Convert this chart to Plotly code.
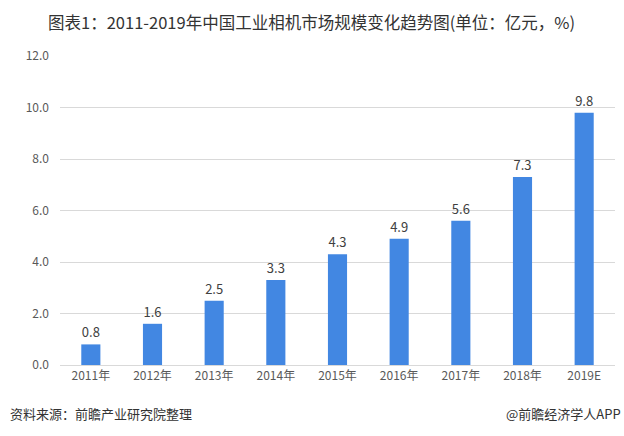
import plotly.graph_objects as go

years = ["2011年", "2012年", "2013年", "2014年", "2015年", "2016年", "2017年", "2018年", "2019E"]
market_size = [0.8, 1.6, 2.5, 3.3, 4.3, 4.9, 5.6, 7.3, 9.8]
y_ticks = [0, 2, 4, 6, 8, 10, 12]

BAR = "#4287E2"
GRID = "#D9D9D9"
TEXT = "#404040"
FONT = "Noto Sans CJK SC"

W, H = 624, 436
M = dict(l=60, r=9, t=56, b=71)

fig = go.Figure()
fig.add_trace(go.Bar(
    x=years, y=market_size,
    marker=dict(color=BAR, line=dict(width=0)),
    text=[f"{v:.1f}" for v in market_size],
    textposition="outside",
    textfont=dict(color=TEXT, size=13, family=FONT),
    cliponaxis=False,
))


def paper_y(py):
    # pixel row -> paper coordinate
    return 1 - (py - M["t"]) / (H - M["t"] - M["b"])


def paper_x(px):
    return (px - M["l"]) / (W - M["l"] - M["r"])


# title and footer
for txt, px, py, xa, size in [
    ("图表1：2011-2019年中国工业相机市场规模变化趋势图(单位：亿元，%)", 311, 22, "center", 16.5),
    ("资料来源：前瞻产业研究院整理", 8, 413, "left", 13),
    ("@前瞻经济学人APP", 623, 413, "right", 13),
]:
    fig.add_annotation(
        x=paper_x(px), y=paper_y(py), xref="paper", yref="paper",
        xanchor=xa, yanchor="middle", showarrow=False, text=txt,
        font=dict(color="#333333", size=size, family=FONT),
    )

fig.update_layout(
    width=W, height=H,
    margin=M,
    plot_bgcolor="white", paper_bgcolor="white",
    bargap=0.69,
    showlegend=False,
    xaxis=dict(
        tickfont=dict(color="#595959", size=12, family=FONT),
        showline=True, linecolor=GRID, linewidth=1,
        ticks="", fixedrange=True,
    ),
    yaxis=dict(
        range=[0, 12], tickvals=y_ticks,
        ticktext=[f"{t:.1f}" for t in y_ticks],
        tickfont=dict(color="#595959", size=12, family=FONT),
        gridcolor=GRID, gridwidth=1, zeroline=False,
        ticks="", ticklabelstandoff=10,
    ),
)

fig.write_html(
    "out.html",
    config={"displayModeBar": False},
    post_script="document.body.style.margin='0';",
)
